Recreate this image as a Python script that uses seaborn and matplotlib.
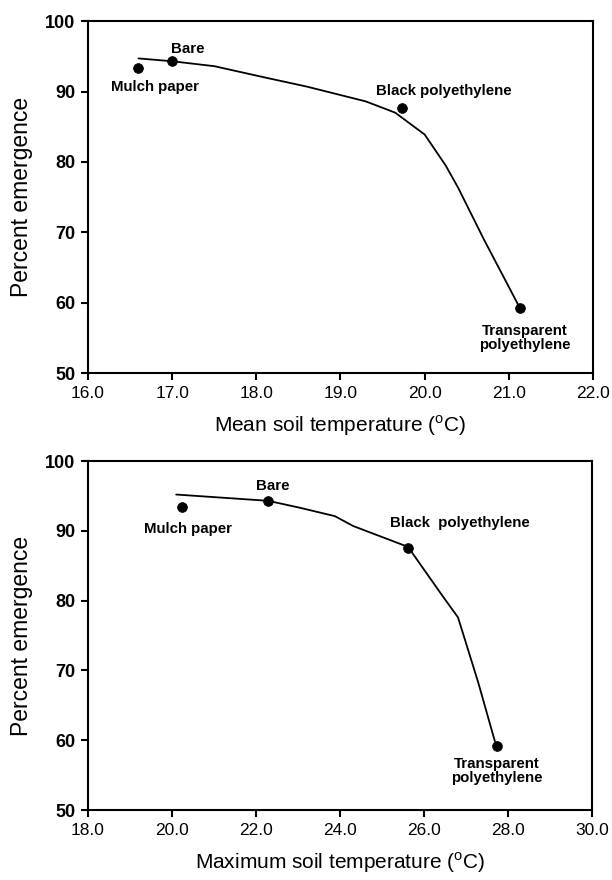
import matplotlib
matplotlib.use("Agg")
import matplotlib.pyplot as plt
import seaborn as sns

# ---- data ----
treatments = ["Mulch paper", "Bare", "Black polyethylene", "Transparent\npolyethylene"]
treatments_b = ["Mulch paper", "Bare", "Black  polyethylene", "Transparent\npolyethylene"]
emergence = [93.4, 94.3, 87.6, 59.2]

mean_temp = [16.59, 17.0, 19.73, 21.13]
max_temp = [20.24, 22.29, 25.62, 27.74]

# fitted curves
fit_mean_x = [16.6, 17.0, 17.5, 18.1, 18.6, 19.3, 19.65, 20.0, 20.25, 20.4, 20.7, 20.95, 21.13]
fit_mean_y = [94.7, 94.3, 93.6, 92.0, 90.7, 88.6, 87.0, 83.9, 79.5, 76.3, 69.1, 63.4, 59.3]
fit_max_x = [20.1, 22.29, 23.05, 23.88, 24.31, 25.62, 26.45, 26.81, 27.29, 27.69]
fit_max_y = [95.2, 94.3, 93.3, 92.1, 90.7, 87.7, 80.6, 77.6, 68.3, 59.8]

xticks_top = [16.0, 17.0, 18.0, 19.0, 20.0, 21.0, 22.0]
xticks_bot = [18.0, 20.0, 22.0, 24.0, 26.0, 28.0, 30.0]
yticks = [50, 60, 70, 80, 90, 100]

# label positions (data coords)
lab_top = [(16.80, 90.7), (17.18, 96.1), (20.23, 90.1), (21.19, 55.0)]
lab_bot = [(20.38, 90.3), (22.40, 96.4), (26.86, 91.1), (27.74, 55.6)]

sns.set_theme(style="ticks")
plt.rcParams["font.family"] = ["Liberation Sans", "DejaVu Sans"]
plt.rcParams["mathtext.fontset"] = "custom"
plt.rcParams["mathtext.rm"] = "Liberation Sans"
for k in ["text.color", "axes.labelcolor", "xtick.color", "ytick.color", "axes.edgecolor"]:
    plt.rcParams[k] = "black"

fig = plt.figure(figsize=(6.12, 8.8), dpi=100)
ax1 = fig.add_axes([0.1438, 0.576, 0.825, 0.400])
ax2 = fig.add_axes([0.1438, 0.0795, 0.8235, 0.3966])

panels = [
    (ax1, mean_temp, fit_mean_x, fit_mean_y, xticks_top, (16, 22), treatments, lab_top,
     r"Mean soil temperature ($^\mathregular{o}$C)"),
    (ax2, max_temp, fit_max_x, fit_max_y, xticks_bot, (18, 30), treatments_b, lab_bot,
     r"Maximum soil temperature ($^\mathregular{o}$C)"),
]

for ax, xs, fx, fy, xt, xlim, labs, lpos, xlabel in panels:
    sns.lineplot(x=fx, y=fy, ax=ax, color="black", linewidth=1.3, sort=False,
                 estimator=None)
    sns.scatterplot(x=xs, y=emergence, ax=ax, color="black", s=50, edgecolor="black",
                    linewidth=0.5, zorder=5)
    for t, (lx, ly) in zip(labs, lpos):
        ax.text(lx, ly, t, ha="center", va="center", fontsize=10.8, fontweight="bold",
                linespacing=1.05, color="black")
    ax.set_xlim(*xlim)
    ax.set_ylim(50, 100)
    ax.set_xticks(xt)
    ax.set_xticklabels([f"{v:.1f}" for v in xt], fontsize=12.5)
    ax.set_yticks(yticks)
    ax.set_yticklabels([str(v) for v in yticks], fontsize=13, fontweight="bold")
    ax.set_xlabel(xlabel, fontsize=15, labelpad=9)
    ax.set_ylabel("Percent emergence", fontsize=16.5, labelpad=9)
    for s in ax.spines.values():
        s.set_linewidth(1.5)
        s.set_color("black")
    ax.tick_params(axis="both", direction="out", length=5, width=1.5, colors="black",
                   pad=4)

fig.savefig("out.png", dpi=100)
